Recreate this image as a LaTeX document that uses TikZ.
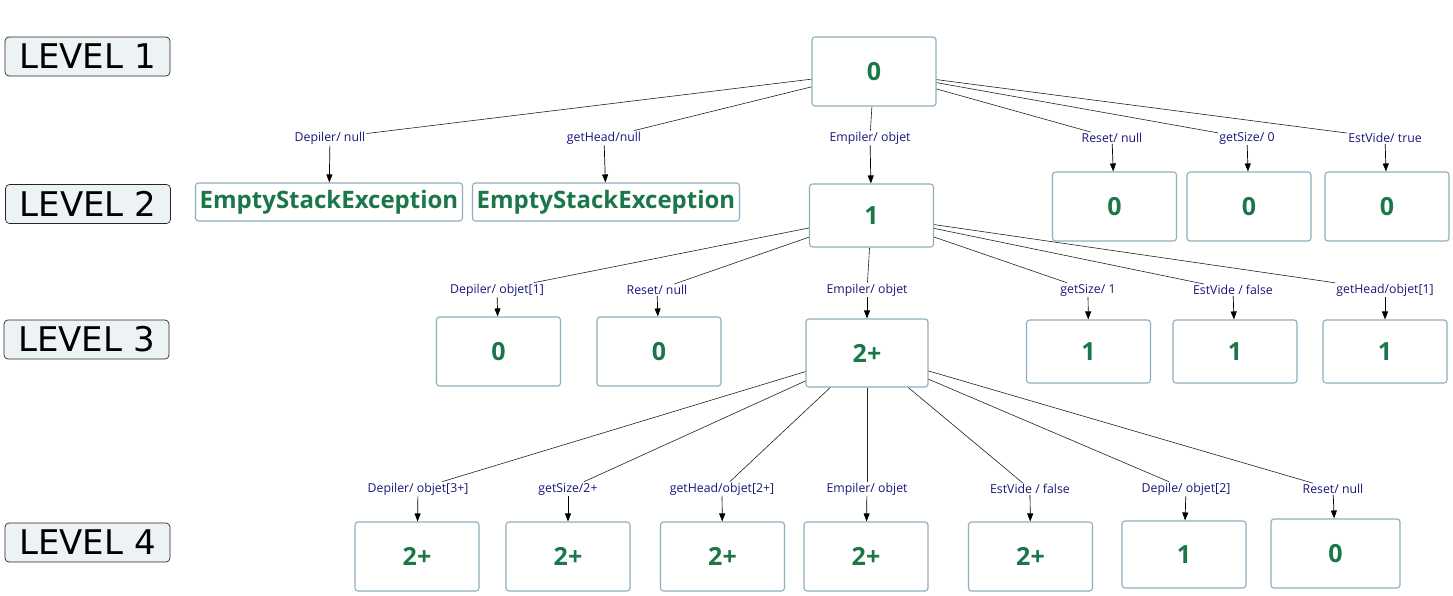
\documentclass[tikz,border=0pt]{standalone}
\usepackage{fontspec}
\setmainfont{Open Sans}
\newfontfamily\lvfont{DejaVu Sans}
\usetikzlibrary{arrows.meta}
\definecolor{boxc}{HTML}{8FAEBE}
\definecolor{numc}{HTML}{1B774A}
\definecolor{labc}{HTML}{17177A}
\definecolor{lvfill}{HTML}{EDF3F5}
\definecolor{edgec}{HTML}{222222}
\tikzset{
  box/.style={draw=boxc, line width=1.1pt, rounded corners=3pt, fill=white,
    inner sep=0pt, minimum width=124pt, minimum height=69pt, text=numc,
    font=\bfseries\fontsize{25}{25}\selectfont},
  exbox/.style={box, minimum width=267pt, minimum height=38pt,
    font=\bfseries\fontsize{24}{24}\selectfont},
  lbl/.style={text=labc, inner sep=1pt, font=\fontsize{12.3}{13}\selectfont},
  lvl/.style={draw=black!85, line width=0.7pt, fill=lvfill, rounded corners=4pt,
    inner sep=0pt, minimum width=165pt, minimum height=39pt,
    font=\lvfont\fontsize{34}{34}\selectfont},
  edge/.style={draw=edgec, line width=0.6pt},
  arr/.style={draw=black, line width=0.7pt, -{Triangle[length=8pt,width=6pt]}}
}
\begin{document}
\begin{tikzpicture}[x=1pt,y=-1pt]
\useasboundingbox (0,0) rectangle (1453,595);
\fill[white] (0,0) rectangle (1453,595);
% level labels
\node[lvl] (lv1) at (87.5,56.5) {LEVEL 1};
\node[lvl] (lv2) at (88,204) {LEVEL 2};
\node[lvl] (lv3) at (86.5,339.5) {LEVEL 3};
\node[lvl] (lv4) at (87.5,542.5) {LEVEL 4};
% level 1
\node[box] (r) at (874,71.5) {0};
% level 2
\node[exbox] (e1) at (329,202) {EmptyStackException};
\node[exbox] (e2) at (606,202) {EmptyStackException};
\node[box, minimum height=63pt] (b1) at (871.5,215.5) {1};
\node[box] (z1) at (1114.5,206.5) {0};
\node[box] (z2) at (1249,206.5) {0};
\node[box] (z3) at (1387,206.5) {0};
% level 1 labels
\node[lbl] (la1) at (330,138) {Depiler/ null};
\node[lbl] (la2) at (604,138) {getHead/null};
\node[lbl] (la3) at (870,138) {Empiler/ objet};
\node[lbl] (la4) at (1112,138) {Reset/ null};
\node[lbl] (la5) at (1247,138) {getSize/ 0};
\node[lbl] (la6) at (1385,138) {EstVide/ true};
% level 3
\node[box] (c1) at (498.5,351.5) {0};
\node[box] (c2) at (659,351.5) {0};
\node[box, minimum width=122pt, minimum height=68pt] (c3) at (867,353) {2+};
\node[box, minimum height=63pt] (c4) at (1088.5,351.5) {1};
\node[box, minimum height=63pt] (c5) at (1235,351.5) {1};
\node[box, minimum height=63pt] (c6) at (1385,351.5) {1};
% level 2 labels
\node[lbl] (lb1) at (497,290) {Depiler/ objet[1]};
\node[lbl] (lb2) at (657,290) {Reset/ null};
\node[lbl] (lb3) at (867,290) {Empiler/ objet};
\node[lbl] (lb4) at (1088,290) {getSize/ 1};
\node[lbl] (lb5) at (1233,290) {EstVide / false};
\node[lbl] (lb6) at (1385,290) {getHead/objet[1]};
% level 4
\node[box] (d1) at (417,556.5) {2+};
\node[box] (d2) at (568,556.5) {2+};
\node[box] (d3) at (722.5,556.5) {2+};
\node[box] (d4) at (866,556.5) {2+};
\node[box] (d5) at (1030.5,556.5) {2+};
\node[box, minimum height=67pt] (d6) at (1184,554.5) {1};
\node[box, minimum width=129pt] (d7) at (1335.5,553.5) {0};
% level 3 labels
\node[lbl] (lc1) at (418,489) {Depiler/ objet[3+]};
\node[lbl] (lc2) at (568,489) {getSize/2+};
\node[lbl] (lc3) at (722,489) {getHead/objet[2+]};
\node[lbl] (lc4) at (867,489) {Empiler/ objet};
\node[lbl] (lc5) at (1030,489) {EstVide / false};
\node[lbl] (lc6) at (1186,489) {Depile/ objet[2]};
\node[lbl] (lc7) at (1333,489) {Reset/ null};
% edges level 1 -> 2
\foreach \l in {la1,la2,la3,la4,la5,la6} \draw[edge] (r) -- (\l);
\draw[arr] (la1) -- (e1);
\draw[arr] (la2) -- (e2);
\draw[arr] (la3) -- (b1);
\draw[arr] (la4) -- (z1);
\draw[arr] (la5) -- (z2);
\draw[arr] (la6) -- (z3);
% edges level 2 -> 3
\foreach \l in {lb1,lb2,lb3,lb4,lb5,lb6} \draw[edge] (b1) -- (\l);
\draw[arr] (lb1) -- (c1);
\draw[arr] (lb2) -- (c2);
\draw[arr] (lb3) -- (c3);
\draw[arr] (lb4) -- (c4);
\draw[arr] (lb5) -- (c5);
\draw[arr] (lb6) -- (c6);
% edges level 3 -> 4
\foreach \l in {lc1,lc2,lc3,lc4,lc5,lc6,lc7} \draw[edge] (c3) -- (\l);
\draw[arr] (lc1) -- (d1);
\draw[arr] (lc2) -- (d2);
\draw[arr] (lc3) -- (d3);
\draw[arr] (lc4) -- (d4);
\draw[arr] (lc5) -- (d5);
\draw[arr] (lc6) -- (d6);
\draw[arr] (lc7) -- (d7);
\end{tikzpicture}
\end{document}
